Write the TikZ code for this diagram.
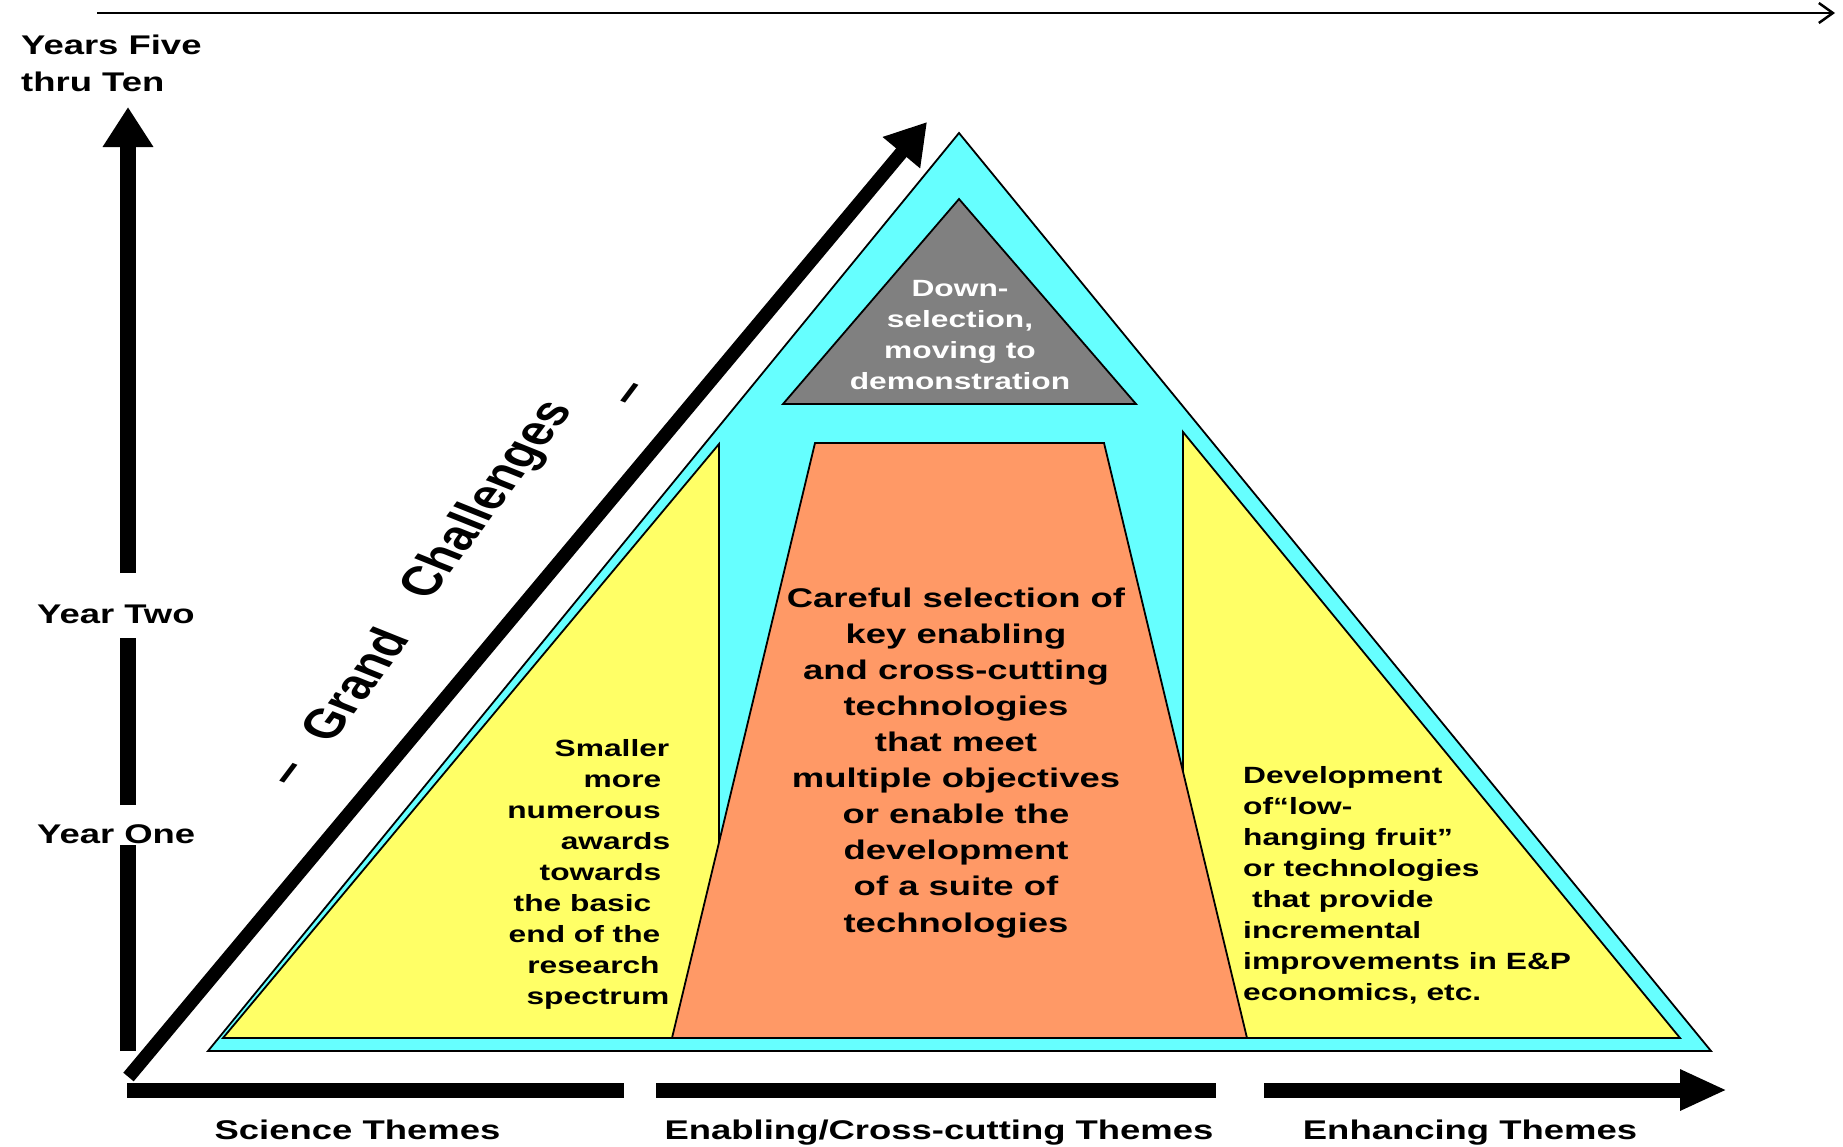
\documentclass[tikz,border=0pt]{standalone}
\usepackage{fontspec}
\setmainfont{Liberation Sans}[FakeStretch=1.35]
\newfontfamily\gcfont{Liberation Sans}
\usetikzlibrary{arrows.meta}
\definecolor{cyanfill}{HTML}{66FFFF}
\definecolor{yellowfill}{HTML}{FFFF66}
\definecolor{orangefill}{HTML}{FF9966}
\definecolor{grayfill}{HTML}{808080}
\tikzset{
  figshape/.style={draw=black, line width=1.8pt, line join=miter},
  smalltext/.style={font=\bfseries\fontsize{23.5}{31}\selectfont, inner sep=0pt},
  bigtext/.style={font=\bfseries\fontsize{27}{36.1}\selectfont, inner sep=0pt},
  gctext/.style={font=\gcfont\bfseries\fontsize{41}{41}\selectfont, inner sep=0pt,
    transform shape, text height=0.73em, text depth=0pt},
  axisbar/.style={line width=15pt},
}
\begin{document}
\begin{tikzpicture}[x=1pt,y=-1pt]
\useasboundingbox (0,0) rectangle (1843,1146);
\fill[white] (0,0) rectangle (1843,1146);

% top timeline
\coordinate (tl0) at (97,13);
\coordinate (tl1) at (1835,13);
\draw[line width=2.5pt, -{Straight Barb[length=14pt,width=20pt]}] (tl0) -- (tl1);

% pyramid
\coordinate (apex) at (959,133);
\coordinate (bl) at (208,1051);
\coordinate (br) at (1711,1051);
\filldraw[figshape, fill=cyanfill] (apex) -- (bl) -- (br) -- cycle;
\filldraw[figshape, fill=yellowfill] (719,444) -- (223,1038) -- (719,1038) -- cycle;
\filldraw[figshape, fill=yellowfill] (1183,432) -- (1680,1038) -- (1183,1038) -- cycle;
\filldraw[figshape, fill=orangefill] (815,443) -- (1104,443) -- (1247,1038) -- (672,1038) -- cycle;
\filldraw[figshape, fill=grayfill] (959,199) -- (1136,404) -- (783,404) -- cycle;

% texts inside pyramid (base anchor = baseline of the last line)
\node[smalltext, text=white, align=center, anchor=base] (down) at (960,389)
  {Down-\\selection,\\moving to\\demonstration};
\node[bigtext, align=center, anchor=base] (careful) at (956,932)
  {Careful selection of\\key enabling\\and cross-cutting\\technologies\\that meet\\multiple objectives\\or enable the\\development\\of a suite of\\technologies};
\node[smalltext, align=left, anchor=base west] (dev) at (1243,1000)
  {Development\\of“low-\\hanging fruit”\\or technologies\\\ that provide\\incremental\\improvements in E\&P\\economics, etc.};
\foreach \x/\y/\t [count=\i] in {612/756/Smaller, 622.5/787/more, 584/818/numerous,
    615.5/849/awards, 600.5/880/towards, 582.5/911/the basic, 584.5/942/end of the,
    593.5/973/research, 598/1004/spectrum}
  \node[smalltext, anchor=base] (left\i) at (\x,\y) {\t};

% vertical time axis
\coordinate (v0) at (128,1051);
\coordinate (v1) at (128,845);
\coordinate (v2) at (128,805);
\coordinate (v3) at (128,638);
\coordinate (v4) at (128,573);
\coordinate (vtip) at (128,107);
\draw[line width=16pt] (v0) -- (v1);
\draw[line width=16pt] (v2) -- (v3);
\draw[line width=16pt, -{Triangle[length=40pt,width=48pt]}] (v4) -- (vtip);
\node[bigtext, align=left, anchor=base west] (yrs) at (21,91) {Years Five\\thru Ten};
\node[bigtext, anchor=base west] (y2) at (37,623) {Year Two};
\node[bigtext, anchor=base west] (y1) at (37,843) {Year One};

% diagonal arrow
\coordinate (d0) at (128.5,1077);
\coordinate (dtip) at (927,122);
\draw[line width=13.5pt, -{Triangle[length=40pt,width=46pt]}] (d0) -- (dtip);

% Grand Challenges
\begin{scope}[shift={(298,777)}, xscale=1.37, rotate=61.2]
  \node[gctext] (dash1) at (0,0) {–};
\end{scope}
\begin{scope}[shift={(367,690)}, xscale=1.37, rotate=61.2]
  \node[gctext] (grand) at (0,0) {Grand};
\end{scope}
\begin{scope}[shift={(497,504)}, xscale=1.37, rotate=61.2]
  \node[gctext] (chall) at (0,0) {Challenges};
\end{scope}
\begin{scope}[shift={(639,397)}, xscale=1.37, rotate=61.2]
  \node[gctext] (dash2) at (0,0) {–};
\end{scope}

% bottom theme axis
\coordinate (h0) at (127,1090);
\coordinate (h1) at (624,1090);
\coordinate (h2) at (656,1090);
\coordinate (h3) at (1216,1090);
\coordinate (h4) at (1264,1090);
\coordinate (htip) at (1727,1090);
\draw[axisbar] (h0) -- (h1);
\draw[axisbar] (h2) -- (h3);
\draw[axisbar, -{Triangle[length=47pt,width=38pt]}] (h4) -- (htip);
\node[bigtext, anchor=base] (sci) at (357.5,1139) {Science Themes};
\node[bigtext, anchor=base] (ena) at (939,1139) {Enabling/Cross-cutting Themes};
\node[bigtext, anchor=base] (enh) at (1470,1139) {Enhancing Themes};
\end{tikzpicture}
\end{document}
